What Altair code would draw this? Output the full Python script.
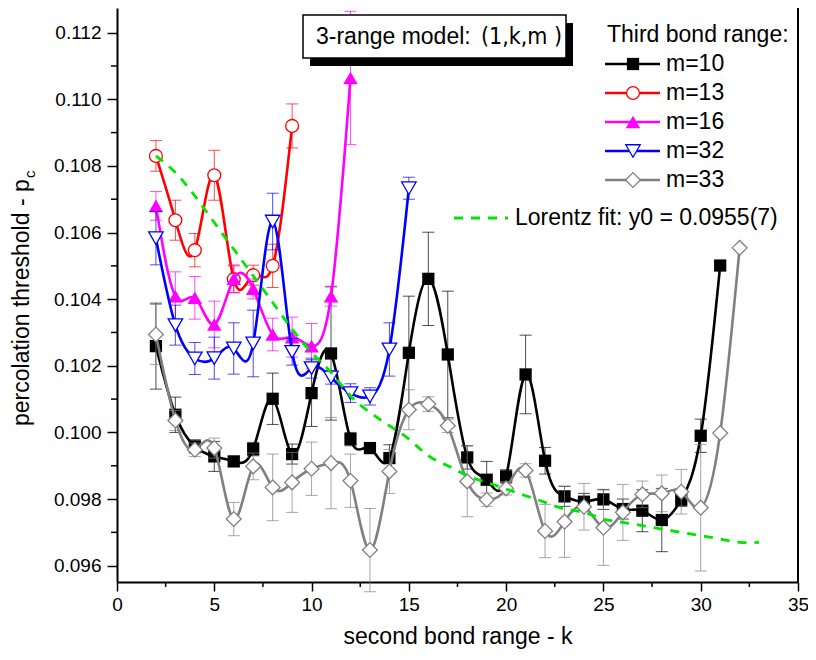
import altair as alt
import pandas as pd

FONT = "Liberation Sans"
NARROW = "Liberation Sans Narrow, DejaVu Sans Condensed, sans-serif"

# ---------------- data ----------------
k_m10 = list(range(2, 32))
p_m10 = [0.10259, 0.10053, 0.09958, 0.09928, 0.09913, 0.09950, 0.10101, 0.09935, 0.10118, 0.10237,
         0.09980, 0.09953, 0.09923, 0.10239, 0.10461, 0.10234, 0.09925, 0.09858, 0.09868, 0.10174,
         0.09915, 0.09808, 0.09792, 0.09799, 0.09770, 0.09765, 0.09737, 0.09798, 0.09990, 0.10501]
e_m10 = [0.00129, 0.00053, 0.00020, 0.00045, 0.00015, 0.00020, 0.00077, 0.00030, 0.00100, 0.00200,
         0.00020, 0.00015, 0.00040, 0.00170, 0.00140, 0.00190, 0.00035, 0.00055, 0.00020, 0.00118,
         0.00040, 0.00030, 0.00025, 0.00030, 0.00030, 0.00063, 0.00095, 0.00020, 0.00050, 0.0]

k_m13 = list(range(2, 10))
p_m13 = [0.10830, 0.10637, 0.10547, 0.10772, 0.10460, 0.10472, 0.10500, 0.10920]
e_m13 = [0.00046, 0.00060, 0.00050, 0.00075, 0.00040, 0.00030, 0.00065, 0.00066]

k_m16 = list(range(2, 13))
p_m16 = [0.10680, 0.10409, 0.10404, 0.10324, 0.10461, 0.10431, 0.10294, 0.10286, 0.10259, 0.10409, 0.11064]
e_m16 = [0.00043, 0.00073, 0.00064, 0.00070, 0.00042, 0.00030, 0.00049, 0.00060, 0.00068, 0.00030, 0.00200]

k_m32 = list(range(2, 16))
p_m32 = [0.10583, 0.10322, 0.10222, 0.10223, 0.10252, 0.10267, 0.10633, 0.10242, 0.10193, 0.10165,
         0.10118, 0.10108, 0.10249, 0.10733]
e_m32 = [0.00080, 0.00060, 0.00048, 0.00063, 0.00077, 0.00100, 0.00085, 0.00040, 0.00030, 0.00020,
         0.00028, 0.00026, 0.00080, 0.00033]

k_m33 = list(range(2, 33))
p_m33 = [0.10294, 0.10036, 0.09948, 0.09953, 0.09740, 0.09898, 0.09835, 0.09850, 0.09891, 0.09908,
         0.09855, 0.09647, 0.09883, 0.10068, 0.10085, 0.10020, 0.09853, 0.09798, 0.09832, 0.09886,
         0.09704, 0.09732, 0.09777, 0.09714, 0.09760, 0.09814, 0.09817, 0.09822, 0.09774, 0.09998,
         0.10554]
e_m33 = [0.00090, 0.00030, 0.00020, 0.00030, 0.00050, 0.00040, 0.00100, 0.00090, 0.00080, 0.00137,
         0.00080, 0.00125, 0.00066, 0.00060, 0.00022, 0.00020, 0.00106, 0.00020, 0.00020, 0.00020,
         0.00080, 0.00107, 0.00070, 0.00113, 0.00084, 0.00040, 0.00055, 0.00067, 0.00190, 0.0,
         0.0]

k_fit = list(range(2, 34))
p_fit = [0.1083, 0.1078, 0.1071, 0.1063, 0.1055, 0.1047, 0.1039, 0.1031, 0.1024, 0.1018,
         0.1011, 0.1006, 0.1002, 0.0998, 0.0993, 0.0990, 0.0987, 0.0985, 0.0983, 0.0981,
         0.0979, 0.0977, 0.0976, 0.0974, 0.0973, 0.0972, 0.0971, 0.0970, 0.0969, 0.0968,
         0.0967, 0.0967]

x_ticks = [0, 5, 10, 15, 20, 25, 30, 35]
x_minor = [2.5, 7.5, 12.5, 17.5, 22.5, 27.5, 32.5]
y_ticks = [0.096, 0.098, 0.100, 0.102, 0.104, 0.106, 0.108, 0.110, 0.112]
y_minor = [0.097, 0.099, 0.101, 0.103, 0.105, 0.107, 0.109, 0.111]

series_names = ["m=10", "m=13", "m=16", "m=32", "m=33"]
fit_label = "Lorentz fit: y0 = 0.0955(7)"
legend_title = "Third bond range:"
box_text_a = "3-range model: "
box_text_b = "(1,k,m  )"
x_title = "second bond range - k"
y_title_main = "percolation threshold - p"
y_title_sub = "c"

# ---------------- styles ----------------
W, H = 681, 574
Y_MIN, Y_MAX = 0.09551, 0.11274

styles = [
    dict(color="#000000", shape="square", filled=True, size=150),
    dict(color="#ff0000", shape="circle", filled=False, size=165),
    dict(color="#ff00ff", shape="triangle-up", filled=True, size=210),
    dict(color="#0000ff", shape="triangle-down", filled=False, size=210),
    dict(color="#808080", shape="diamond", filled=False, size=220),
]
data_sets = [
    (k_m10, p_m10, e_m10),
    (k_m13, p_m13, e_m13),
    (k_m16, p_m16, e_m16),
    (k_m32, p_m32, e_m32),
    (k_m33, p_m33, e_m33),
]

x_axis = alt.Axis(values=x_ticks, format="d", tickSize=9, tickWidth=1.5, domainWidth=2,
                  labelFontSize=19, labelPadding=4, labelFlush=False, labelOverlap=False,
                  titleFontSize=23, titleFontWeight="normal", titlePadding=11, grid=False)
y_axis = alt.Axis(values=y_ticks, format=".3f", tickSize=10, tickWidth=1.5, domainWidth=2,
                  labelFontSize=19, labelPadding=6, labelOverlap=False, grid=False)

xs = alt.Scale(domain=[0, 35], nice=False, zero=False)
ys = alt.Scale(domain=[Y_MIN, Y_MAX], nice=False, zero=False)


def xenc(f):
    return alt.X(f + ":Q", scale=xs, axis=x_axis, title=x_title)


def yenc(f):
    return alt.Y(f + ":Q", scale=ys, axis=y_axis, title=None)


dummy = pd.DataFrame({"_": [0]})
layers = []

# minor ticks
layers.append(alt.Chart(pd.DataFrame({"k": x_minor})).mark_rule(color="black", strokeWidth=1.5)
              .encode(x=xenc("k"), y=alt.value(H), y2=alt.value(H + 5)))
layers.append(alt.Chart(pd.DataFrame({"p": y_minor})).mark_rule(color="black", strokeWidth=1.5)
              .encode(y=yenc("p"), x=alt.value(-6), x2=alt.value(0)))
# right frame
layers.append(alt.Chart(dummy).mark_rule(color="black", strokeWidth=2)
              .encode(x=alt.value(W), y=alt.value(0), y2=alt.value(H)))

for (kk, pp, ee), st in zip(data_sets, styles):
    df = pd.DataFrame({"k": kk, "p": pp, "e": ee})
    df["lo"] = df["p"] - df["e"]
    df["hi"] = df["p"] + df["e"]
    er = df[df["e"] > 0]
    c = st["color"]
    layers.append(alt.Chart(er).mark_rule(color=c, strokeWidth=1, opacity=0.7)
                  .encode(x=xenc("k"), y=yenc("lo"), y2="hi:Q"))
    for f in ("lo", "hi"):
        layers.append(alt.Chart(er).mark_tick(color=c, thickness=1, size=12, orient="horizontal",
                                              opacity=0.7)
                      .encode(x=xenc("k"), y=yenc(f)))
    layers.append(alt.Chart(df).mark_line(color=c, strokeWidth=2.6, interpolate="natural", clip=True)
                  .encode(x=xenc("k"), y=yenc("p")))
    if st["filled"]:
        pm = alt.Chart(df).mark_point(shape=st["shape"], filled=True, color=c, size=st["size"],
                                      opacity=1)
    else:
        pm = alt.Chart(df).mark_point(shape=st["shape"], filled=True, fill="white", stroke=c,
                                      strokeWidth=1.3, size=st["size"], opacity=1)
    layers.append(pm.encode(x=xenc("k"), y=yenc("p")))

# Lorentz fit
fdf = pd.DataFrame({"k": k_fit, "p": p_fit})
layers.append(alt.Chart(fdf).mark_line(color="#00e600", strokeWidth=2.8, strokeDash=[9, 8],
                                       interpolate="natural")
              .encode(x=xenc("k"), y=yenc("p")))

# ---------------- legend (manual) ----------------
LX0, LX1, LMX, LTX = 488, 543, 516, 549
LY0, LDY = 56, 29
layers.append(alt.Chart(dummy).mark_text(text=legend_title, font=FONT, fontSize=23, align="left",
                                         baseline="middle", color="black")
              .encode(x=alt.value(490), y=alt.value(27)))
for i, (name, st) in enumerate(zip(series_names, styles)):
    yy = LY0 + i * LDY
    c = st["color"]
    layers.append(alt.Chart(dummy).mark_rule(color=c, strokeWidth=2.6)
                  .encode(x=alt.value(LX0), x2=alt.value(LX1), y=alt.value(yy)))
    if st["filled"]:
        pm = alt.Chart(dummy).mark_point(shape=st["shape"], filled=True, color=c, size=st["size"],
                                         opacity=1)
    else:
        pm = alt.Chart(dummy).mark_point(shape=st["shape"], filled=True, fill="white", stroke=c,
                                         strokeWidth=1.3, size=st["size"], opacity=1)
    layers.append(pm.encode(x=alt.value(LMX), y=alt.value(yy)))
    layers.append(alt.Chart(dummy).mark_text(text=name, font=FONT, fontSize=23, align="left",
                                             baseline="middle", color="black")
                  .encode(x=alt.value(LTX), y=alt.value(yy)))
layers.append(alt.Chart(dummy).mark_rule(color="#00e600", strokeWidth=2.8, strokeDash=[9, 8])
              .encode(x=alt.value(337), x2=alt.value(391), y=alt.value(210)))
layers.append(alt.Chart(dummy).mark_text(text=fit_label, font=FONT, fontSize=23, align="left",
                                         baseline="middle", color="black")
              .encode(x=alt.value(398), y=alt.value(210)))

# ---------------- title box ----------------
layers.append(alt.Chart(dummy).mark_rect(color="black")
              .encode(x=alt.value(193), x2=alt.value(456), y=alt.value(15), y2=alt.value(58)))
layers.append(alt.Chart(dummy).mark_rect(fill="white", stroke="black", strokeWidth=1.5)
              .encode(x=alt.value(186), x2=alt.value(449), y=alt.value(7), y2=alt.value(50)))
layers.append(alt.Chart(dummy).mark_text(text=box_text_a, font=FONT, fontSize=23, align="left",
                                         baseline="middle", color="black")
              .encode(x=alt.value(199), y=alt.value(29)))
layers.append(alt.Chart(dummy).mark_text(text=box_text_b, font=NARROW, fontSize=23, align="left",
                                         baseline="middle", color="black")
              .encode(x=alt.value(364), y=alt.value(29)))

# ---------------- y title with subscript ----------------
layers.append(alt.Chart(dummy).mark_text(text=y_title_main, font=FONT, fontSize=23, align="left",
                                         baseline="middle", angle=270, color="black")
              .encode(x=alt.value(-95), y=alt.value(418)))
layers.append(alt.Chart(dummy).mark_text(text=y_title_sub, font=FONT, fontSize=15, align="left",
                                         baseline="middle", angle=270, color="black")
              .encode(x=alt.value(-87), y=alt.value(170)))

chart = (alt.layer(*layers)
         .properties(width=W, height=H,
                     padding={"left": 109, "top": 0, "right": 10, "bottom": 70},
                     autosize=alt.AutoSizeParams(type="none"),
                     background="white")
         .configure_view(stroke=None)
         .configure_axis(labelFont=FONT, titleFont=FONT, labelColor="black", titleColor="black",
                         domainColor="black", tickColor="black"))

chart.save("out.html", embed_options={"renderer": "svg", "actions": False})
